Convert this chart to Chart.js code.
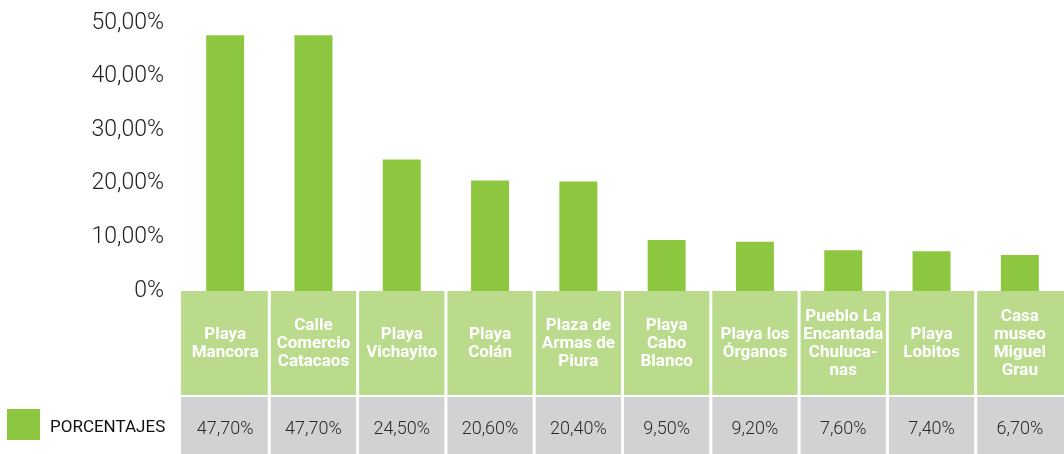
<!DOCTYPE html>
<html>
<head>
<meta charset="utf-8">
<script src="https://cdn.jsdelivr.net/npm/chart.js@4.4.0/dist/chart.umd.min.js"></script>
<style>
  html, body { margin: 0; padding: 0; background: #fff; }
  #wrap { width: 1064px; height: 454px; }
</style>
</head>
<body>
<div id="wrap"><canvas id="chart"></canvas></div>
<script>
// Datos
const categories = [
    ['Playa', 'Mancora'],
    ['Calle', 'Comercio', 'Catacaos'],
    ['Playa', 'Vichayito'],
    ['Playa', 'Colán'],
    ['Plaza de', 'Armas de', 'Piura'],
    ['Playa', 'Cabo', 'Blanco'],
    ['Playa los', 'Órganos'],
    ['Pueblo La', 'Encantada', 'Chuluca-', 'nas'],
    ['Playa', 'Lobitos'],
    ['Casa', 'museo', 'Miguel', 'Grau']
];
const porcentajes = [47.7, 47.7, 24.5, 20.6, 20.4, 9.5, 9.2, 7.6, 7.4, 6.7];
const yTicks = [0, 10, 20, 30, 40, 50];
const seriesLabel = 'PORCENTAJES';

const fmtPct = v => v === 0 ? '0%' : v.toFixed(2).replace('.', ',') + '%';

// Tabla de datos bajo el gráfico
const tablePlugin = {
    id: 'tablePlugin',
    afterDraw(chart) {
        const ctx = chart.ctx;
        const xs = chart.scales.x;
        const area = chart.chartArea;
        const n = categories.length;
        const w = (xs.right - xs.left) / n;
        const rowTop = area.bottom, rowBot = 395, grayTop = 397, grayBot = chart.height;
        const green = chart.data.datasets[0].backgroundColor;

        ctx.save();
        ctx.fillStyle = '#badb8c';
        ctx.fillRect(xs.left, rowTop, xs.right - xs.left, rowBot - rowTop);
        ctx.fillStyle = '#d1d2d4';
        ctx.fillRect(xs.left, grayTop, xs.right - xs.left, grayBot - grayTop);
        // separadores blancos
        ctx.fillStyle = '#fff';
        for (let i = 1; i < n; i++) {
            const bx = xs.left + i * w;
            ctx.fillRect(bx - 1.5, rowTop, 3, grayBot - rowTop);
        }

        ctx.textAlign = 'center';
        ctx.textBaseline = 'middle';
        categories.forEach((lines, i) => {
            const cx = xs.getPixelForValue(i);
            ctx.fillStyle = '#fff';
            ctx.font = 'bold 17px Roboto';
            const lh = 18;
            const cy = (rowTop + rowBot) / 2 + 1;
            const start = cy - (lines.length - 1) * lh / 2;
            lines.forEach((t, k) => ctx.fillText(t, cx, start + k * lh));
            ctx.fillStyle = '#2a2a2a';
            ctx.font = '300 18px Roboto';
            ctx.fillText(fmtPct(chart.data.datasets[0].data[i]), cx, 429);
        });

        // leyenda
        ctx.fillStyle = green;
        ctx.fillRect(7, 409, 33, 31);
        ctx.fillStyle = '#111';
        ctx.font = '17px Roboto';
        ctx.textAlign = 'left';
        ctx.fillText(chart.data.datasets[0].label, 50, 428);
        ctx.restore();
    }
};

new Chart(document.getElementById('chart'), {
    type: 'bar',
    data: {
        labels: categories,
        datasets: [{
            label: seriesLabel,
            data: porcentajes,
            backgroundColor: '#8dc63f',
            barPercentage: 0.43,
            categoryPercentage: 1
        }]
    },
    options: {
        responsive: true,
        maintainAspectRatio: false,
        animation: false,
        layout: { padding: { top: 18, bottom: 163, left: 0, right: 0 } },
        scales: {
            x: { display: false },
            y: {
                min: 0, max: 50,
                afterFit: s => { s.width = 181; },
                afterBuildTicks: s => { s.ticks = yTicks.map(v => ({ value: v })); },
                grid: { display: false },
                border: { display: false },
                ticks: {
                    padding: 9,
                    color: '#222',
                    font: { family: 'Roboto', size: 23, weight: '300' },
                    callback: v => fmtPct(v)
                }
            }
        },
        plugins: {
            legend: { display: false },
            tooltip: { enabled: false }
        }
    },
    plugins: [tablePlugin]
});
</script>
</body>
</html>
